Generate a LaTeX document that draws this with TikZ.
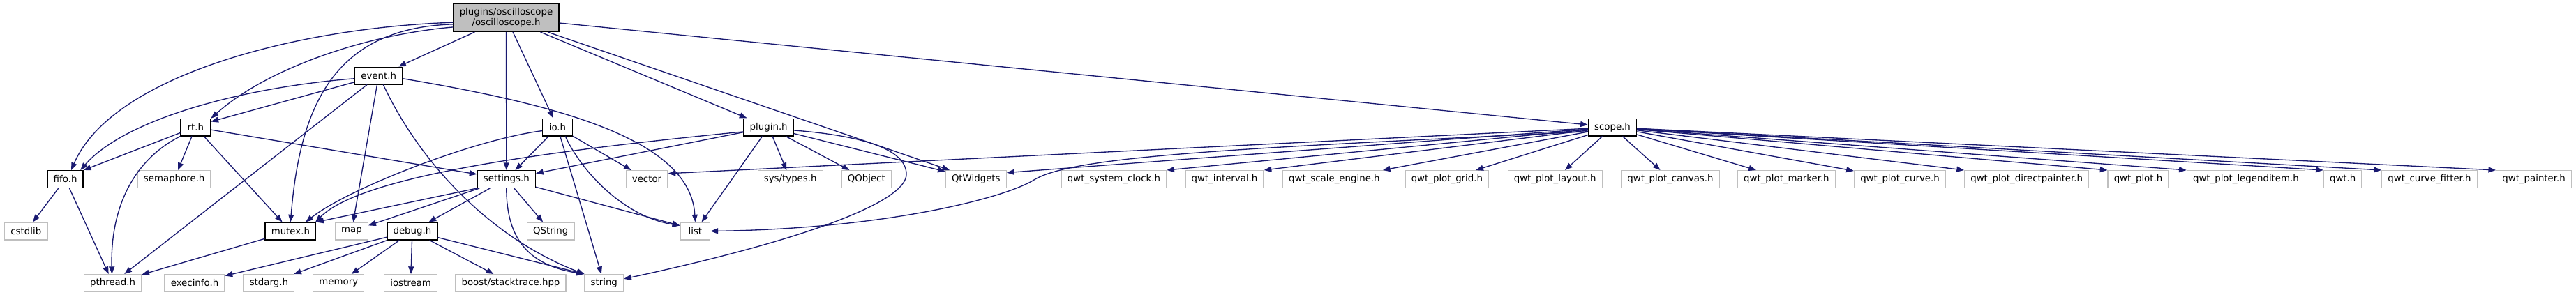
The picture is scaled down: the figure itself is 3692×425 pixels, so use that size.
\documentclass[tikz,border=0pt]{standalone}
\usepackage{fontspec}
\setmainfont{DejaVu Sans}
\usepackage{tikz}
\usetikzlibrary{arrows.meta}
\definecolor{GraphEdge}{HTML}{191970}
\definecolor{GraphGrey}{HTML}{BFBFBF}

\begin{document}
\begin{tikzpicture}[x=0.75pt,y=-0.75pt,>={Triangle[length=8pt,width=6pt]},
  every node/.style={font=\fontsize{10}{11.25}\selectfont,inner xsep=6.5pt,
    inner ysep=0pt,minimum height=18.5pt,minimum width=32pt,line width=1pt},
  mainfile/.style={draw=black,fill=GraphGrey,align=center,minimum height=29.75pt},
  docfile/.style={draw=black,fill=white},
  extfile/.style={draw=GraphGrey,fill=white},
  dep/.style={->,draw=GraphEdge,line width=1pt}]
  \useasboundingbox (0,0) rectangle (3692,425);

  \node[mainfile] (root) at (725.5,25.5) {plugins/oscilloscope\\/oscilloscope.h};
  \node[docfile] (event) at (542.7,108.5) {event.h};
  \node[docfile] (rt) at (280.4,182.5) {rt.h};
  \node[docfile] (io) at (799,182.5) {io.h};
  \node[docfile] (plugin) at (1101.7,182.5) {plugin.h};
  \node[docfile] (scope) at (2311,182.5) {scope.h};

  \node[docfile] (fifo) at (93.6,257) {fifo.h};
  \node[extfile] (semaphore) at (249.7,257) {semaphore.h};
  \node[docfile] (settings) at (725.8,257) {settings.h};
  \node[extfile] (vector) at (927,257) {vector};
  \node[extfile] (systypes) at (1132.7,257) {sys/types.h};
  \node[extfile] (qobject) at (1241.8,257) {QObject};
  \node[extfile] (qtwidgets) at (1398.8,257) {QtWidgets};
  \node[extfile] (sysclock) at (1596.5,257) {qwt\_system\_clock.h};
  \node[extfile] (interval) at (1755,257) {qwt\_interval.h};
  \node[extfile] (scaleengine) at (1912.4,257) {qwt\_scale\_engine.h};
  \node[extfile] (plotgrid) at (2073.9,257) {qwt\_plot\_grid.h};
  \node[extfile] (plotlayout) at (2228.7,257) {qwt\_plot\_layout.h};
  \node[extfile] (plotcanvas) at (2394,257) {qwt\_plot\_canvas.h};
  \node[extfile] (plotmarker) at (2560.4,257) {qwt\_plot\_marker.h};
  \node[extfile] (plotcurve) at (2723,257) {qwt\_plot\_curve.h};
  \node[extfile] (directpainter) at (2904.7,257) {qwt\_plot\_directpainter.h};
  \node[extfile] (qwtplot) at (3064.5,257) {qwt\_plot.h};
  \node[extfile] (legenditem) at (3218.9,257) {qwt\_plot\_legenditem.h};
  \node[extfile] (qwt) at (3357.7,257) {qwt.h};
  \node[extfile] (curvefitter) at (3482,257) {qwt\_curve\_fitter.h};
  \node[extfile] (painter) at (3631.6,257) {qwt\_painter.h};

  \node[extfile] (cstdlib) at (37.3,331.5) {cstdlib};
  \node[docfile] (mutex) at (416.4,331.5) {mutex.h};
  \node[extfile] (map) at (504,331.5) {map};
  \node[docfile] (debug) at (590.9,331.5) {debug.h};
  \node[extfile] (qstring) at (789.2,331.5) {QString};
  \node[extfile] (list) at (996.4,331.5) {list};

  \node[extfile] (pthread) at (161.6,406) {pthread.h};
  \node[extfile] (execinfo) at (279,406) {execinfo.h};
  \node[extfile] (stdarg) at (385.4,406) {stdarg.h};
  \node[extfile] (memory) at (485.3,406) {memory};
  \node[extfile] (iostream) at (588.6,406) {iostream};
  \node[extfile] (boost) at (732,406) {boost/stacktrace.hpp};
  \node[extfile] (string) at (865.8,406) {string};

  \draw[dep] (root) -- (event);
  \draw[dep] (root.190) .. controls (520,50) and (380,100) .. (rt.30);
  \draw[dep] (root.185) .. controls (420,40) and (160,110) .. (fifo.57);
  \draw[dep] (root.187) .. controls (480,40) and (430,150) .. (mutex.north);
  \draw[dep] (root) -- (settings);
  \draw[dep] (root) -- (io);
  \draw[dep] (root) -- (plugin);
  \draw[dep] (root) -- (qtwidgets);
  \draw[dep] (root) -- (scope);

  \draw[dep] (event.195) -- (rt.20);
  \draw[dep] (event.187) .. controls (350,125) and (180,170) .. (fifo.31);
  \draw[dep] (event) -- (pthread);
  \draw[dep] (event) -- (map);
  \draw[dep] (event.297) .. controls (600,230) and (700,340) .. (string.north west);
  \draw[dep] (event.353) .. controls (800,150) and (990,200) .. (list.north);

  \draw[dep] (rt.200) -- (fifo.north east);
  \draw[dep] (rt.south west) .. controls (190,230) and (158,300) .. (pthread.95);
  \draw[dep] (rt) -- (semaphore);
  \draw[dep] (rt) -- (mutex);
  \draw[dep] (rt) -- (settings);

  \draw[dep] (io) -- (settings);
  \draw[dep] (io.193) .. controls (680,200) and (500,270) .. (mutex.31);
  \draw[dep] (io) -- (vector);
  \draw[dep] (io) -- (string);
  \draw[dep] (io.311) .. controls (830,240) and (890,310) .. (list.160);

  \draw[dep] (plugin) -- (settings);
  \draw[dep] (plugin.190) .. controls (800,215) and (520,250) .. (mutex.20);
  \draw[dep] (plugin) -- (list);
  \draw[dep] (plugin) -- (systypes);
  \draw[dep] (plugin) -- (qobject);
  \draw[dep] (plugin) -- (qtwidgets);
  \draw[dep] (plugin.353) .. controls (1240,195) and (1299,215) .. (1299,250)
    .. controls (1299,290) and (1150,345) .. (string.12);

  \draw[dep] (fifo) -- (cstdlib);
  \draw[dep] (fifo) -- (pthread);

  \draw[dep] (settings.south west) -- (mutex.north east);
  \draw[dep] (settings) -- (map);
  \draw[dep] (settings) -- (debug);
  \draw[dep] (settings) -- (qstring);
  \draw[dep] (settings.south) .. controls (726,340) and (755,380) .. (string.north west);
  \draw[dep] (settings) -- (list.160);

  \draw[dep] (mutex) -- (pthread);

  \draw[dep] (debug) -- (execinfo);
  \draw[dep] (debug) -- (stdarg);
  \draw[dep] (debug) -- (memory);
  \draw[dep] (debug) -- (iostream);
  \draw[dep] (debug) -- (boost);
  \draw[dep] (debug) -- (string.north west);

  \draw[dep] (scope) -- (vector.15);
  \draw[dep] (scope) -- (qtwidgets.12);
  \draw[dep] (scope.190) .. controls (1800,212) and (1540,222) .. (1482,258)
    .. controls (1440,284) and (1270,328) .. (list.east);
  \draw[dep] (scope) -- (sysclock.north east);
  \draw[dep] (scope) -- (interval.north east);
  \draw[dep] (scope) -- (scaleengine);
  \draw[dep] (scope) -- (plotgrid);
  \draw[dep] (scope) -- (plotlayout);
  \draw[dep] (scope) -- (plotcanvas);
  \draw[dep] (scope) -- (plotmarker);
  \draw[dep] (scope) -- (plotcurve);
  \draw[dep] (scope) -- (directpainter.north west);
  \draw[dep] (scope) -- (qwtplot.north west);
  \draw[dep] (scope) -- (legenditem.north west);
  \draw[dep] (scope) -- (qwt.north west);
  \draw[dep] (scope) -- (curvefitter.north west);
  \draw[dep] (scope) -- (painter.north west);
\end{tikzpicture}
\end{document}
